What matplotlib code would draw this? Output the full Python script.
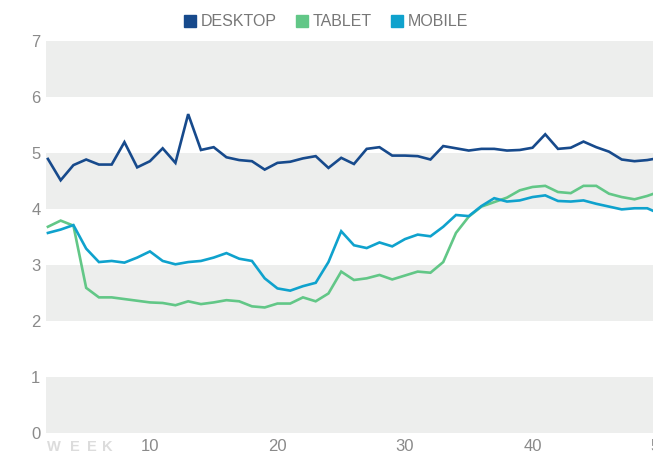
import matplotlib.pyplot as plt
from matplotlib.lines import Line2D
import numpy as np

plt.rcParams["font.family"] = ["Liberation Sans", "DejaVu Sans"]

# Weekly values
weeks = np.arange(2, 51)
desktop = [4.89, 4.51, 4.78, 4.88, 4.79, 4.79, 5.19, 4.74, 4.85, 5.08,
           4.82, 5.69, 5.05, 5.10, 4.92, 4.87, 4.85, 4.70, 4.82, 4.84,
           4.90, 4.94, 4.73, 4.91, 4.80, 5.07, 5.10, 4.95, 4.95, 4.94,
           4.88, 5.12, 5.08, 5.04, 5.07, 5.07, 5.04, 5.05, 5.09, 5.33,
           5.07, 5.09, 5.20, 5.10, 5.02, 4.88, 4.85, 4.87, 4.91]
tablet = [3.68, 3.79, 3.70, 2.59, 2.42, 2.42, 2.39, 2.36, 2.33, 2.32,
          2.28, 2.35, 2.30, 2.33, 2.37, 2.35, 2.26, 2.24, 2.31, 2.31,
          2.42, 2.35, 2.49, 2.88, 2.73, 2.76, 2.82, 2.74, 2.81, 2.88,
          2.86, 3.05, 3.57, 3.86, 4.04, 4.12, 4.20, 4.33, 4.39, 4.41,
          4.30, 4.28, 4.41, 4.41, 4.27, 4.21, 4.17, 4.23, 4.31]
mobile = [3.57, 3.63, 3.71, 3.29, 3.05, 3.07, 3.04, 3.13, 3.24, 3.07,
          3.01, 3.05, 3.07, 3.13, 3.21, 3.11, 3.07, 2.76, 2.58, 2.54,
          2.62, 2.68, 3.05, 3.60, 3.35, 3.30, 3.40, 3.33, 3.46, 3.54,
          3.51, 3.68, 3.89, 3.87, 4.05, 4.19, 4.13, 4.15, 4.21, 4.24,
          4.14, 4.13, 4.15, 4.09, 4.04, 3.99, 4.01, 4.01, 3.91]

series = [("DESKTOP", desktop, "#174a8c"),
          ("TABLET", tablet, "#62c787"),
          ("MOBILE", mobile, "#0fa2cd")]
bands = [(0, 1), (2, 3), (4, 5), (6, 7)]

W, H = 653, 455
fig = plt.figure(figsize=(W / 100, H / 100), dpi=100)
ax = fig.add_axes([46 / W, 22 / H, (660 - 46) / W, (414.3 - 22) / H])

for lo, hi in bands:
    ax.axhspan(lo, hi, color="#edeeed", lw=0, zorder=0)

for name, vals, col in series:
    ax.plot(weeks, vals, color=col, lw=1.9, solid_joinstyle="miter", zorder=3)

ax.set_xlim(1.85, 50)
ax.set_ylim(0, 7)
ax.set_xticks([10, 20, 30, 40, 50])
ax.set_yticks(range(0, 8))
ax.tick_params(length=0, labelsize=12, labelcolor="#8a8a8a")
ax.tick_params(axis="y", pad=4)
ax.tick_params(axis="x", pad=4)
for s in ax.spines.values():
    s.set_visible(False)

# spaced-out "WEEK" axis tag in the bottom-left corner
for ch, px in zip("WEEK", [54, 74.5, 92, 107.5]):
    fig.text(px / W, 1 - 447 / H, ch, ha="center", va="center",
             fontsize=10.5, fontweight="bold", color="#dcdcdc")

handles = [Line2D([], [], marker="s", ls="none", markersize=9, color=c)
           for _, _, c in series]
fig.legend(handles, [n for n, _, _ in series], loc="upper center",
           bbox_to_anchor=(0.497, 1.0), ncol=3, frameon=False,
           fontsize=11.5, labelcolor="#777777", handletextpad=0.15,
           handlelength=1.1, columnspacing=1.0, borderaxespad=0.5)

fig.savefig("out.png", dpi=100)
